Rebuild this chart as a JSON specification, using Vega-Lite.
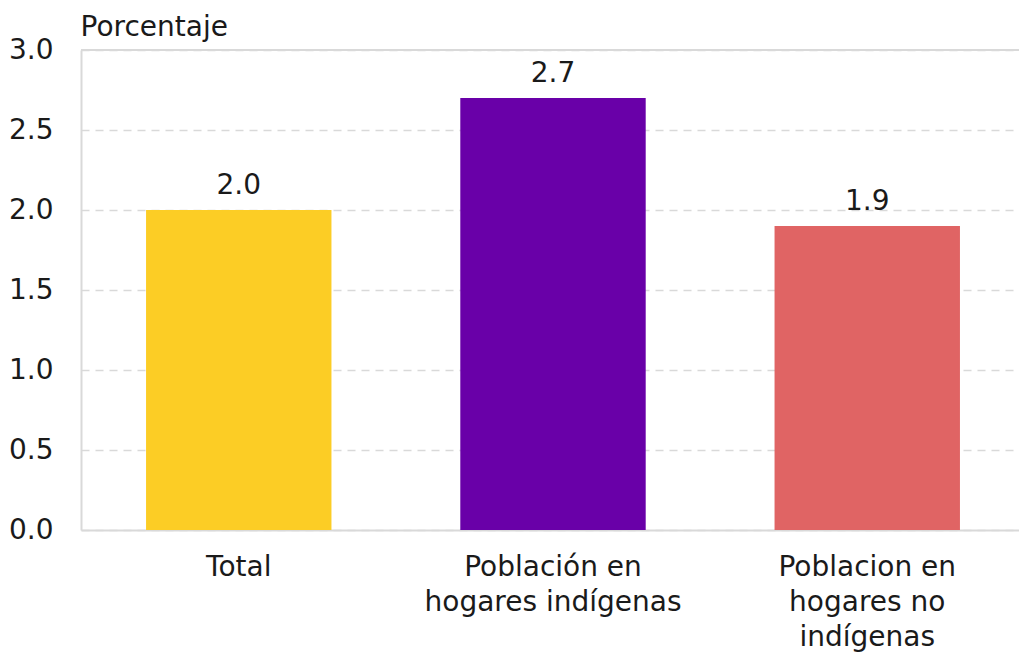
{
  "$schema": "https://vega.github.io/schema/vega-lite/v6.json",
  "width": 944,
  "height": 480,
  "autosize": {"type": "none"},
  "padding": {"left": 81, "top": 50, "right": 0, "bottom": 124},
  "background": "white",
  "config": {
    "view": {"stroke": null},
    "font": "DejaVu Sans",
    "text": {"font": "DejaVu Sans"}
  },
  "data": {
    "values": [
      {"grupo": "Total", "valor": 2.0, "color": "#FCCD25"},
      {"grupo": "Población en hogares indígenas", "valor": 2.7, "color": "#6900A8"},
      {"grupo": "Poblacion en hogares no indígenas", "valor": 1.9, "color": "#E06464"}
    ]
  },
  "encoding": {
    "x": {
      "field": "grupo",
      "type": "nominal",
      "sort": null,
      "scale": {"paddingInner": 0.41, "paddingOuter": 0.207},
      "axis": {
        "title": null,
        "labelAngle": 0,
        "labelFontSize": 28,
        "labelColor": "#1a1a1a",
        "labelPadding": 23,
        "labelLineHeight": 35,
        "labelBaseline": "top",
        "labelLimit": 0,
        "ticks": false,
        "domainColor": "#d9d9d9",
        "domainWidth": 2,
        "labelExpr": "datum.value == 'Población en hogares indígenas' ? ['Población en', 'hogares indígenas'] : datum.value == 'Poblacion en hogares no indígenas' ? ['Poblacion en', 'hogares no', 'indígenas'] : datum.value"
      }
    },
    "y": {
      "field": "valor",
      "type": "quantitative",
      "scale": {"domain": [0, 3]},
      "axis": {
        "values": [0, 0.5, 1, 1.5, 2, 2.5, 3],
        "format": ".1f",
        "title": "Porcentaje",
        "titleAngle": 0,
        "titleX": -1,
        "titleY": -15,
        "titleAlign": "left",
        "titleBaseline": "alphabetic",
        "titleFontSize": 28,
        "titleFontWeight": "normal",
        "titleColor": "#1a1a1a",
        "labelFontSize": 28,
        "labelColor": "#1a1a1a",
        "labelPadding": 28,
        "ticks": false,
        "domainColor": "#d9d9d9",
        "domainWidth": 2,
        "grid": true,
        "gridColor": "#d9d9d9",
        "gridWidth": 1.5,
        "gridDash": [8, 6]
      }
    }
  },
  "layer": [
    {
      "mark": {"type": "rule", "color": "#d9d9d9", "strokeWidth": 2},
      "data": {"values": [{"y": 3}]},
      "encoding": {"y": {"field": "y", "type": "quantitative"}, "x": null}
    },
    {
      "mark": {"type": "bar"},
      "encoding": {
        "color": {"field": "color", "type": "nominal", "scale": null}
      }
    },
    {
      "mark": {"type": "text", "dy": -16, "baseline": "alphabetic", "fontSize": 28, "color": "#1a1a1a"},
      "encoding": {
        "text": {"field": "valor", "type": "quantitative", "format": ".1f"}
      }
    }
  ]
}
